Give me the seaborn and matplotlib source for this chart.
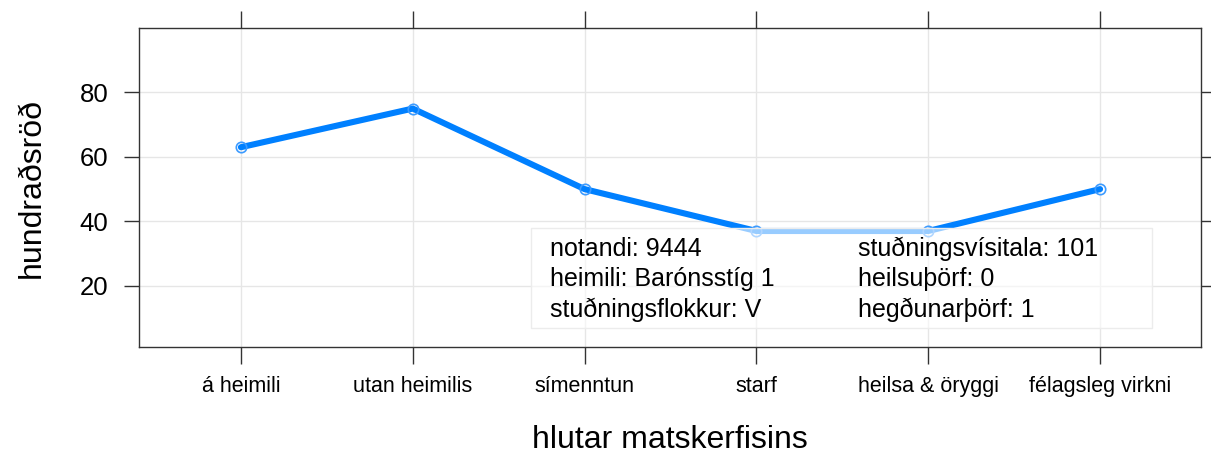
import numpy as np
import pandas as pd
import seaborn as sns
import matplotlib.pyplot as plt
from matplotlib.patches import Rectangle

# gögn
hlutar = ['á heimili', 'utan heimilis', 'símenntun', 'starf',
          'heilsa & öryggi', 'félagsleg virkni']
hundradsrod = [63, 75, 50, 37, 37, 50]

upplysingar_vinstri = ['notandi: 9444', 'heimili: Barónsstíg 1', 'stuðningsflokkur: V']
upplysingar_haegri = ['stuðningsvísitala: 101', 'heilsuþörf: 0', 'hegðunarþörf: 1']

df = pd.DataFrame({'hluti': np.arange(len(hlutar)), 'gildi': hundradsrod})

sns.set_theme(style='whitegrid')
plt.rcParams['font.family'] = ['Liberation Sans', 'DejaVu Sans']

fig = plt.figure(figsize=(12.11, 4.54), dpi=100)
ax = fig.add_axes([0.1148, 0.2357, 0.8769, 0.7026])
ax.set_facecolor('white')

sns.lineplot(data=df, x='hluti', y='gildi', ax=ax, color='#0080ff',
             linewidth=4.4, marker='o', markersize=7.5, markerfacecolor='none',
             markeredgecolor='#3d9bff', markeredgewidth=1.2, zorder=3)

ax.set_xlim(-0.593, 5.587)
ax.set_ylim(1, 100)
ax.set_xticks(range(len(hlutar)))
ax.set_xticklabels(hlutar, fontsize=15.5)
ax.set_yticks([20, 40, 60, 80])
ax.tick_params(axis='y', labelsize=18.5, length=11, width=1, color='#333333',
               labelcolor='black', direction='out', pad=11,
               left=True, right=True, labelright=False)
ax.tick_params(axis='x', length=12, width=1, color='#333333', labelcolor='black',
               direction='out', pad=9, top=True, bottom=True, labeltop=False)
ax.grid(True, color='#e6e6e6', linewidth=1)
for s in ax.spines.values():
    s.set_color('#333333')
    s.set_linewidth(1)
    s.set_visible(True)

ax.set_xlabel('hlutar matskerfisins', fontsize=23, labelpad=20, color='black')
ax.set_ylabel('hundraðsröð', fontsize=23, labelpad=24, color='black')

# upplýsingakassi
ax.add_patch(Rectangle((0.369, 0.0596), 0.585, 0.3134, transform=ax.transAxes,
                       facecolor='white', alpha=0.6, edgecolor='none', zorder=4))
ax.add_patch(Rectangle((0.369, 0.0596), 0.585, 0.3134, transform=ax.transAxes,
                       facecolor='none', edgecolor='#ececec', linewidth=1, zorder=4))
for i, (a, b) in enumerate(zip(upplysingar_vinstri, upplysingar_haegri)):
    yy = 0.308 - i * 0.0955
    ax.text(0.387, yy, a, transform=ax.transAxes, fontsize=18, va='center', ha='left',
            color='black', zorder=5)
    ax.text(0.677, yy, b, transform=ax.transAxes, fontsize=18, va='center', ha='left',
            color='black', zorder=5)

fig.savefig('out.png', dpi=100)
